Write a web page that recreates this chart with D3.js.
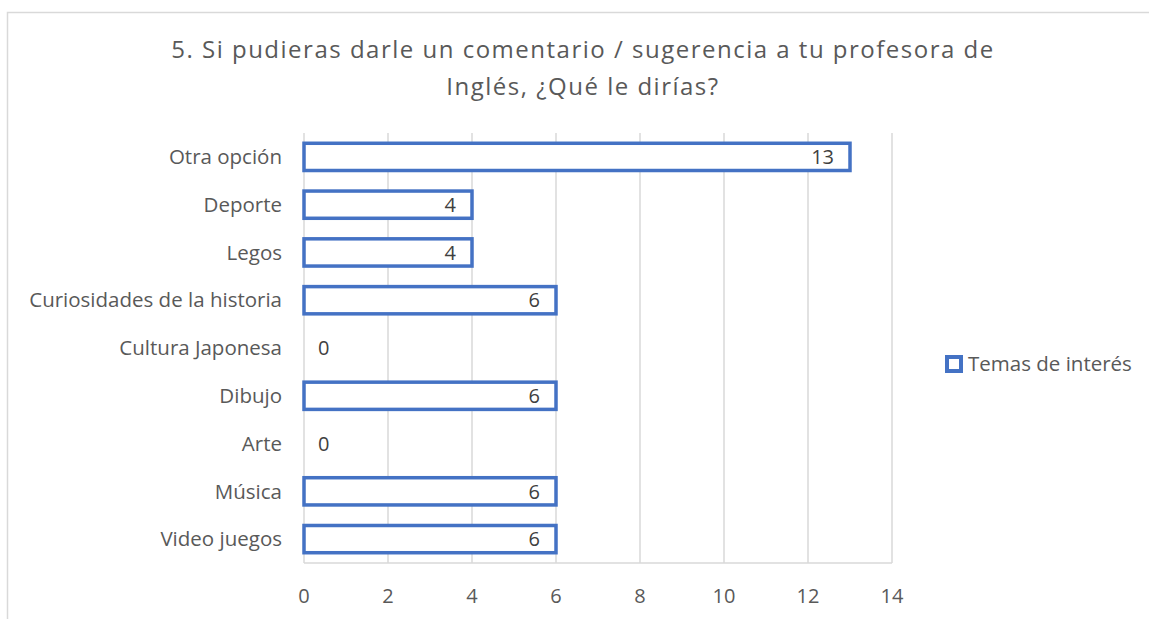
<!DOCTYPE html>
<html>
<head>
<meta charset="utf-8">
<script src="https://cdn.jsdelivr.net/npm/d3@7"></script>
<style>
  body { margin: 0; background: #fff; }
  svg { display: block; font-family: "Open Sans", sans-serif; }
</style>
</head>
<body>
<svg id="chart" width="1149" height="619"></svg>
<script>
// data, top to bottom as drawn
const categories = ["Otra opción", "Deporte", "Legos", "Curiosidades de la historia",
  "Cultura Japonesa", "Dibujo", "Arte", "Música", "Video juegos"];
const values = [13, 4, 4, 6, 0, 6, 0, 6, 6];
const xTicks = [0, 2, 4, 6, 8, 10, 12, 14];
const titleLines = ["5. Si pudieras darle un comentario / sugerencia a tu profesora de",
  "Inglés, ¿Qué le dirías?"];
const seriesName = "Temas de interés";

const svg = d3.select("#chart");
const blue = "#4472C4";
const margin = { left: 304, right: 257, top: 133, bottom: 56 };
const W = 1149, H = 619;

// chart frame (only left/top edges fall inside the picture)
svg.append("rect")
    .attr("x", 7.5).attr("y", 12.5)
    .attr("width", 1200).attr("height", 700)
    .attr("fill", "none").attr("stroke", "#d9d9d9").attr("stroke-width", 1.5);

// title
svg.append("g").selectAll("text")
    .data(titleLines)
    .join("text")
    .attr("x", 583)
    .attr("y", (d, i) => 58 + i * 37)
    .attr("text-anchor", "middle")
    .attr("fill", "#595959")
    .style("font-size", "24px")
    .style("letter-spacing", "1.5px")
    .text(d => d);

const x = d3.scaleLinear().domain([0, 14]).range([margin.left, W - margin.right]);
const y = d3.scaleBand().domain(categories).range([margin.top, H - margin.bottom]).paddingInner(0.43).paddingOuter(0.215);

// gridlines
svg.append("g").selectAll("line")
    .data(xTicks)
    .join("line")
    .attr("x1", d => x(d)).attr("x2", d => x(d))
    .attr("y1", margin.top).attr("y2", H - margin.bottom)
    .attr("stroke", "#d9d9d9").attr("stroke-width", 1.5);

// bottom axis line
svg.append("line")
    .attr("x1", x(0)).attr("x2", x(14))
    .attr("y1", H - margin.bottom).attr("y2", H - margin.bottom)
    .attr("stroke", "#d9d9d9").attr("stroke-width", 1.5);

// x tick labels
svg.append("g").selectAll("text")
    .data(xTicks)
    .join("text")
    .attr("x", d => x(d))
    .attr("y", H - margin.bottom + 40)
    .attr("text-anchor", "middle")
    .attr("fill", "#595959")
    .style("font-size", "20px")
    .text(d => d);

// category labels
svg.append("g").selectAll("text")
    .data(categories)
    .join("text")
    .attr("x", margin.left - 22)
    .attr("y", d => y(d) + y.bandwidth() / 2)
    .attr("dy", "0.35em")
    .attr("text-anchor", "end")
    .attr("fill", "#595959")
    .style("font-size", "20.5px")
    .text(d => d);

// bars (outline only)
const rows = categories.map((c, i) => ({ c, v: values[i] }));
svg.append("g").selectAll("rect")
    .data(rows.filter(d => d.v > 0))
    .join("rect")
    .attr("x", x(0))
    .attr("y", d => y(d.c))
    .attr("width", d => x(d.v) - x(0))
    .attr("height", y.bandwidth())
    .attr("fill", "#fff")
    .attr("stroke", blue)
    .attr("stroke-width", 3.5);

// value labels
svg.append("g").selectAll("text")
    .data(rows)
    .join("text")
    .attr("x", d => d.v > 0 ? x(d.v) - 16 : x(0) + 14)
    .attr("y", d => y(d.c) + y.bandwidth() / 2)
    .attr("dy", "0.36em")
    .attr("text-anchor", d => d.v > 0 ? "end" : "start")
    .attr("fill", "#404040")
    .style("font-size", "20px")
    .text(d => d.v);

// legend
const lg = svg.append("g").attr("transform", "translate(947,357)");
lg.append("rect")
    .attr("width", 14).attr("height", 14)
    .attr("fill", "#fff").attr("stroke", blue).attr("stroke-width", 4);
lg.append("text")
    .attr("x", 21).attr("y", 7).attr("dy", "0.36em")
    .attr("fill", "#595959")
    .style("font-size", "20.5px")
    .text(seriesName);
</script>
</body>
</html>
